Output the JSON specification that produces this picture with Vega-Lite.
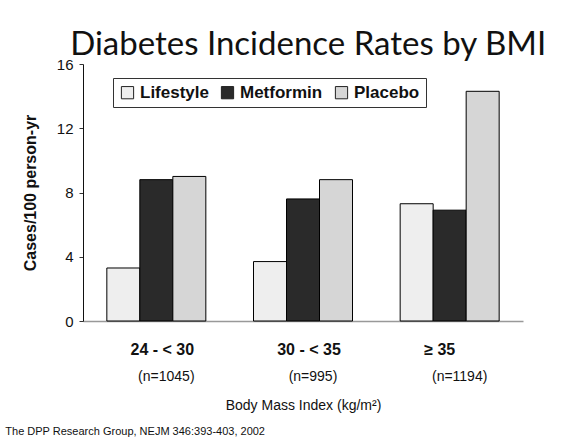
{
  "$schema": "https://vega.github.io/schema/vega-lite/v6.json",
  "padding": {"left": 5, "top": 29, "right": 5, "bottom": 5},
  "background": "white",
  "title": {"text": "Diabetes Incidence Rates by BMI", "font": "Lato", "fontSize": 33, "fontWeight": "normal", "color": "#111", "anchor": "middle", "offset": -5, "dx": 44},
  "config": {"view": {"stroke": null}, "concat": {"spacing": 0}},
  "vconcat": [
    {
      "width": 440,
      "height": 257,
      "title": {"text": "The DPP Research Group, NEJM 346:393-403, 2002", "orient": "bottom", "anchor": "start", "dx": -17, "offset": 14, "font": "Liberation Sans", "fontSize": 11, "fontWeight": "normal", "color": "#111"},
      "layer": [
        {
          "data": {"values": [
            {"bmi": "24 - < 30", "group": "Lifestyle", "rate": 3.3},
            {"bmi": "24 - < 30", "group": "Metformin", "rate": 8.8},
            {"bmi": "24 - < 30", "group": "Placebo", "rate": 9.0},
            {"bmi": "30 - < 35", "group": "Lifestyle", "rate": 3.7},
            {"bmi": "30 - < 35", "group": "Metformin", "rate": 7.6},
            {"bmi": "30 - < 35", "group": "Placebo", "rate": 8.8},
            {"bmi": "≥ 35", "group": "Lifestyle", "rate": 7.3},
            {"bmi": "≥ 35", "group": "Metformin", "rate": 6.9},
            {"bmi": "≥ 35", "group": "Placebo", "rate": 14.3}
          ]},
          "mark": {"type": "bar", "stroke": "black", "strokeWidth": 1},
          "encoding": {
            "x": {"field": "bmi", "type": "nominal", "sort": ["24 - < 30", "30 - < 35", "≥ 35"],
              "scale": {"paddingInner": 0.325, "paddingOuter": 0.1625},
              "axis": {"title": "Body Mass Index (kg/m²)", "labelAngle": 0, "labelFont": "Liberation Sans", "labelFontWeight": "bold", "labelFontSize": 16, "labelColor": "#111", "labelPadding": 20, "labelOffset": {"condition": {"test": "datum.value === '≥ 35'", "value": -10}, "value": 6}, "ticks": false, "domainColor": "#999", "domainWidth": 1.5, "titleFont": "Liberation Sans", "titleFontSize": 14, "titleFontWeight": "normal", "titleColor": "#111", "titlePadding": 41}},
            "xOffset": {"field": "group", "type": "nominal", "scale": {"paddingInner": 0, "paddingOuter": 0}},
            "y": {"field": "rate", "type": "quantitative", "scale": {"domain": [0, 16], "nice": false},
              "axis": {"values": [0, 4, 8, 12, 16], "grid": false, "title": "Cases/100 person-yr", "titleFont": "Liberation Sans", "titleFontSize": 16, "titleFontWeight": "bold", "titleColor": "#111", "titlePadding": 18, "labelFont": "Liberation Sans", "labelFontSize": 15, "labelColor": "#111", "labelPadding": 6, "tickSize": 4, "tickColor": "#333", "domainColor": "#111"}},
            "color": {"field": "group", "type": "nominal",
              "scale": {"domain": ["Lifestyle", "Metformin", "Placebo"], "range": ["#eeeeee", "#2a2a2a", "#d6d6d6"]},
              "legend": {"orient": "none", "legendX": 30, "legendY": 14, "direction": "horizontal", "title": null, "strokeColor": "#333", "padding": 6, "symbolType": "square", "symbolSize": 150, "symbolStrokeColor": "#222", "symbolStrokeWidth": 1, "labelFont": "Liberation Sans", "labelFontSize": 17, "labelFontWeight": "bold", "labelColor": "#111", "columnPadding": 10, "labelOffset": 4}}
          }
        },
        {
          "data": {"values": [
            {"bmi": "24 - < 30", "n": "(n=1045)"},
            {"bmi": "30 - < 35", "n": "(n=995)"},
            {"bmi": "≥ 35", "n": "(n=1194)"}
          ]},
          "mark": {"type": "text", "font": "Liberation Sans", "fontSize": 14, "color": "#111", "dx": 10, "baseline": "middle"},
          "encoding": {
            "x": {"field": "bmi", "type": "nominal", "sort": ["24 - < 30", "30 - < 35", "≥ 35"]},
            "y": {"datum": -3.5},
            "text": {"field": "n"}
          }
        }
      ]
    }
  ]
}
